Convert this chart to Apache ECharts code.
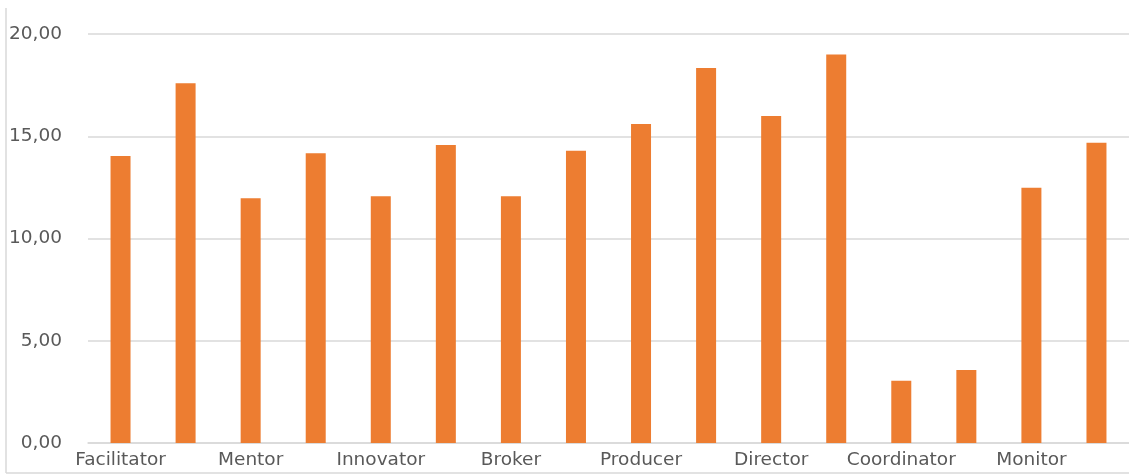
<!DOCTYPE html>
<html>
<head>
<meta charset="utf-8">
<script src="https://cdn.jsdelivr.net/npm/echarts@6/dist/echarts.min.js"></script>
<style>
html,body{margin:0;padding:0;background:#fff;}
#chart{width:1129px;height:475px;}
</style>
</head>
<body>
<div id="chart"></div>
<script>
const categories = [
  "Facilitator", "Facilitator ", "Mentor", "Mentor ", "Innovator", "Innovator ",
  "Broker", "Broker ", "Producer", "Producer ", "Director", "Director ",
  "Coordinator", "Coordinator ", "Monitor", "Monitor "
];
const values = [14.03, 17.59, 11.97, 14.17, 12.07, 14.57, 12.07, 14.29,
                15.60, 18.34, 15.99, 19.00, 3.05, 3.57, 12.48, 14.68];
const yTicks = { min: 0, max: 20, interval: 5 };

const chart = echarts.init(document.getElementById('chart'), null, {renderer: 'canvas'});
const font = 'DejaVu Sans';
chart.setOption({
  animation: false,
  grid: { left: 88, right: -3, top: 34, bottom: 32, containLabel: false },
  xAxis: {
    type: 'category',
    data: categories,
    axisLine: { show: true, lineStyle: { color: '#d9d9d9', width: 1.5 } },
    axisTick: { show: false },
    axisLabel: {
      interval: 1,
      color: '#595959',
      fontFamily: font,
      fontSize: 18.5,
      margin: 8,
      formatter: v => v.trim()
    }
  },
  yAxis: {
    type: 'value',
    min: yTicks.min, max: yTicks.max, interval: yTicks.interval,
    axisLine: { show: false },
    axisTick: { show: false },
    splitLine: { lineStyle: { color: '#d9d9d9', width: 1.5 } },
    axisLabel: {
      color: '#595959',
      fontFamily: font,
      fontSize: 18.5,
      margin: 26,
      formatter: v => v.toFixed(2).replace('.', ',')
    }
  },
  series: [{
    type: 'bar',
    data: values,
    barWidth: 20,
    itemStyle: { color: '#ED7D31' }
  }],
  graphic: [
    { type: 'line', shape: { x1: 6, y1: 8, x2: 6, y2: 473 }, style: { stroke: '#d9d9d9', lineWidth: 1.5 } },
    { type: 'line', shape: { x1: 6, y1: 473, x2: 1129, y2: 473 }, style: { stroke: '#d9d9d9', lineWidth: 1.5 } }
  ]
});
</script>
</body>
</html>
